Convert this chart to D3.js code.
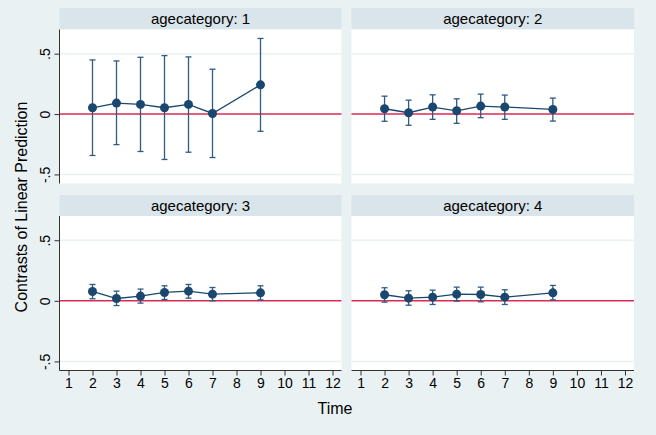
<!DOCTYPE html>
<html>
<head>
<meta charset="utf-8">
<script src="https://cdn.jsdelivr.net/npm/d3@7"></script>
<style>
  html, body { margin: 0; padding: 0; background: #eaf1f3; }
  svg { display: block; }
  text { font-family: "Liberation Sans", Arial, Helvetica, sans-serif; fill: #000; }
</style>
</head>
<body>
<svg id="chart" width="656" height="435"></svg>
<script>
// ---- data ----
const times = [2, 3, 4, 5, 6, 7, 9];
const panelLabels = ["agecategory: 1", "agecategory: 2", "agecategory: 3", "agecategory: 4"];

const estAge1 = [0.052, 0.091, 0.080, 0.052, 0.080, 0.005, 0.242];
const loAge1  = [-0.343, -0.253, -0.310, -0.376, -0.316, -0.360, -0.143];
const hiAge1  = [0.448, 0.440, 0.470, 0.484, 0.473, 0.371, 0.626];

const estAge2 = [0.044, 0.011, 0.058, 0.027, 0.066, 0.058, 0.038];
const loAge2  = [-0.060, -0.093, -0.044, -0.077, -0.030, -0.044, -0.058];
const hiAge2  = [0.148, 0.115, 0.159, 0.126, 0.165, 0.157, 0.132];

const estAge3 = [0.077, 0.019, 0.039, 0.069, 0.080, 0.055, 0.066];
const loAge3  = [0.017, -0.039, -0.019, 0.011, 0.022, 0.000, 0.008];
const hiAge3  = [0.135, 0.080, 0.097, 0.124, 0.135, 0.110, 0.124];

const estAge4 = [0.050, 0.022, 0.030, 0.055, 0.052, 0.030, 0.066];
const loAge4  = [-0.011, -0.036, -0.030, -0.003, -0.008, -0.030, 0.008];
const hiAge4  = [0.108, 0.083, 0.088, 0.113, 0.113, 0.091, 0.127];

const xTicks = [1, 2, 3, 4, 5, 6, 7, 8, 9, 10, 11, 12];
const yTicks = [-0.5, 0, 0.5];
const yTickLabels = ["-.5", "0", ".5"];
const yTitle = "Contrasts of Linear Prediction";
const xTitle = "Time";

// ---- layout ----
const svg = d3.select("#chart");
const navy = "#1a476f";
const refRed = "#dc2a52";
const gridCol = "#eaf1f3";
const stripCol = "#d9e5ea";

const cols = [{x0: 59.5, x1: 341.5}, {x0: 351.5, x1: 634}];
const rows = [{strip: 8, top: 29.5, bottom: 183.5}, {strip: 195, top: 216, bottom: 370.5}];

const panelData = [
  {est: estAge1, lo: loAge1, hi: hiAge1},
  {est: estAge2, lo: loAge2, hi: hiAge2},
  {est: estAge3, lo: loAge3, hi: hiAge3},
  {est: estAge4, lo: loAge4, hi: hiAge4}
];

panelData.forEach((pd, i) => {
  const c = cols[i % 2], r = rows[Math.floor(i / 2)];
  const x = d3.scaleLinear().domain([0.625, 12.375]).range([c.x0, c.x1]);
  const y = d3.scaleLinear().domain([-0.575, 0.7]).range([r.bottom, r.top]);
  const g = svg.append("g");

  // strip
  g.append("rect").attr("x", c.x0).attr("y", r.strip)
    .attr("width", c.x1 - c.x0).attr("height", r.top - r.strip).attr("fill", stripCol);
  g.append("text").attr("x", (c.x0 + c.x1) / 2).attr("y", r.strip + 16)
    .attr("text-anchor", "middle").style("font-size", "15px").text(panelLabels[i]);

  // plot region
  g.append("rect").attr("x", c.x0).attr("y", r.top)
    .attr("width", c.x1 - c.x0).attr("height", r.bottom - r.top).attr("fill", "#fff");

  // gridlines
  g.selectAll(".grid").data(yTicks.filter(v => v !== 0)).enter().append("line")
    .attr("x1", c.x0).attr("x2", c.x1)
    .attr("y1", d => y(d)).attr("y2", d => y(d))
    .attr("stroke", gridCol).attr("stroke-width", 1.5);

  // zero reference line
  g.append("line").attr("x1", c.x0).attr("x2", c.x1)
    .attr("y1", y(0)).attr("y2", y(0))
    .attr("stroke", refRed).attr("stroke-width", 1.5);

  // y axis on left column
  if (i % 2 === 0) {
    const ax = g.append("g").attr("transform", `translate(${c.x0},0)`)
      .call(d3.axisLeft(y).tickValues(yTicks).tickSize(5).tickFormat((d, k) => yTickLabels[k]));
    ax.select(".domain").attr("stroke", "#333").attr("d", `M0,${r.top}V${r.bottom}`);
    ax.selectAll(".tick line").attr("stroke", "#333");
    ax.selectAll(".tick text")
      .style("font-size", "14px").style("font-family", "Liberation Sans, Arial, sans-serif")
      .attr("fill", "#000")
      .attr("transform", "rotate(-90)")
      .attr("x", 0).attr("y", -10).attr("dy", 0)
      .attr("text-anchor", "middle");
  }

  // x axis on bottom row
  if (i >= 2) {
    const ax = g.append("g").attr("transform", `translate(0,${r.bottom})`)
      .call(d3.axisBottom(x).tickValues(xTicks).tickSize(5).tickFormat(d3.format("d")));
    ax.select(".domain").attr("stroke", "#333").attr("d", `M${c.x0},0H${c.x1}`);
    ax.selectAll(".tick line").attr("stroke", "#333");
    ax.selectAll(".tick text")
      .style("font-size", "14px").style("font-family", "Liberation Sans, Arial, sans-serif")
      .attr("fill", "#000").attr("y", 8).attr("dy", "0.71em");
  }

  // error bars (rcap)
  const pts = times.map((t, k) => ({t, est: pd.est[k], lo: pd.lo[k], hi: pd.hi[k]}));
  const cap = 3;
  const eb = g.append("g").attr("stroke", "#2f5a82").attr("stroke-width", 1.3).attr("fill", "none");
  pts.forEach(p => {
    eb.append("line").attr("x1", x(p.t)).attr("x2", x(p.t)).attr("y1", y(p.lo)).attr("y2", y(p.hi));
    eb.append("line").attr("x1", x(p.t) - cap).attr("x2", x(p.t) + cap).attr("y1", y(p.lo)).attr("y2", y(p.lo));
    eb.append("line").attr("x1", x(p.t) - cap).attr("x2", x(p.t) + cap).attr("y1", y(p.hi)).attr("y2", y(p.hi));
  });

  // connecting line
  g.append("path").datum(pts)
    .attr("d", d3.line().x(d => x(d.t)).y(d => y(d.est)))
    .attr("fill", "none").attr("stroke", navy).attr("stroke-width", 1.3);

  // markers
  g.selectAll(".pt").data(pts).enter().append("circle")
    .attr("cx", d => x(d.t)).attr("cy", d => y(d.est)).attr("r", 4.5)
    .attr("fill", navy);
});

// axis titles
svg.append("text").attr("transform", "translate(27,207) rotate(-90)")
  .attr("text-anchor", "middle").style("font-size", "16px").text(yTitle);
svg.append("text").attr("x", 335).attr("y", 414)
  .attr("text-anchor", "middle").style("font-size", "16px").text(xTitle);
</script>
</body>
</html>
